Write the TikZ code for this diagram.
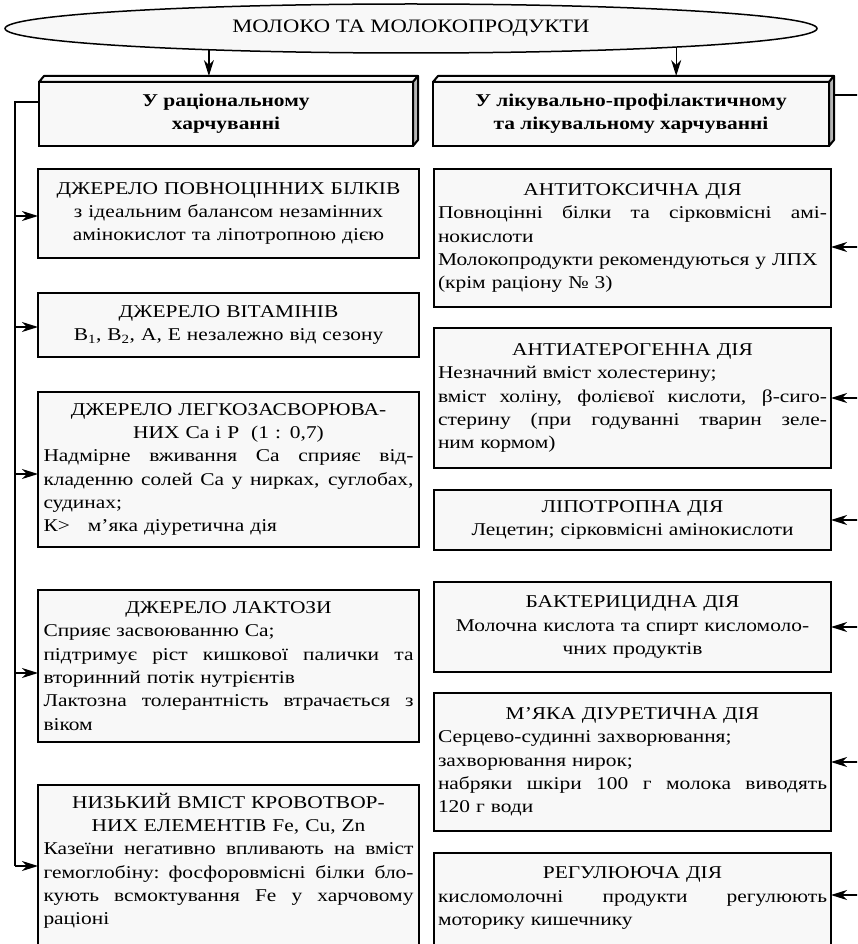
\documentclass[tikz,border=0pt]{standalone}
\usepackage{fontspec}
\setmainfont{Liberation Serif}[FakeStretch=1.19]
\usetikzlibrary{arrows.meta,shapes.geometric,calc}
\definecolor{boxfill}{HTML}{F8F8F8}
\definecolor{sidegray}{HTML}{B5B5B5}
\newcommand{\bodyfont}{\fontsize{18}{23.3}\selectfont}
\newcommand{\Jl}[1]{\leavevmode\hbox to \hsize{\spaceskip=0.25em plus 1em\relax #1}}
\newcommand{\Ll}[1]{\leavevmode\hbox to \hsize{#1\hfil}}
\tikzset{
  lbox/.style={draw, line width=2.2pt, fill=boxfill, text width=370pt, inner xsep=5.5pt,
    align=center, font=\bodyfont, outer sep=0pt},
  rbox/.style={draw, line width=2.2pt, fill=boxfill, text width=389pt, inner xsep=4pt,
    align=center, font=\bodyfont, outer sep=0pt},
  hbox/.style={draw, line width=2pt, fill=boxfill, align=center, font=\bodyfont\bfseries,
    minimum height=64pt, inner sep=0pt, outer sep=0pt},
  face/.style={draw, line width=2pt, line join=round, fill=boxfill},
  conn/.style={draw, line width=1.3pt},
  arr/.style={conn, -{Stealth[length=16pt,width=10pt,inset=5pt]}}
}
\begin{document}
\begin{tikzpicture}[x=1pt,y=-1pt]
\useasboundingbox (0,0) rectangle (857,944);
\clip (0,0) rectangle (857,944);

% top ellipse
\node[draw, ellipse, line width=1.5pt, fill=boxfill, minimum width=812pt, minimum height=49pt,
  inner sep=0pt, outer sep=0pt, font=\fontsize{19}{23}\selectfont] (ell) at (411,28.5) {МОЛОКО ТА МОЛОКОПРОДУКТИ};

% headers
\node[hbox, minimum width=374pt] (lh) at (226,114) {У раціональному\\харчуванні};
\node[hbox, minimum width=396pt] (rh) at (631,114) {У лікувально-профілактичному\\та лікувальному харчуванні};
\foreach \h in {lh,rh}{
  \draw[face] (\h.north west) -- ++(5,-6) -- ($(\h.north east)+(5,-6)$) -- (\h.north east) -- cycle;
  \draw[face, fill=sidegray] (\h.north east) -- ++(5,-6) -- ($(\h.south east)+(5,-6)$) -- (\h.south east) -- cycle;
}
\coordinate (lhback) at ($(lh.north)+(0,-6)$);
\coordinate (rhback) at ($(rh.north)+(0,-6)$);
\coordinate (rhside) at ($(rh.north east)+(5,-6)$);

% left boxes
\node[lbox, minimum height=89pt] (l1) at (228.5,213.5) {ДЖЕРЕЛО ПОВНОЦІННИХ БІЛКІВ\\
з ідеальним балансом незамінних\\
амінокислот та ліпотропною дією};
\node[lbox, minimum height=64pt] (l2) at (228.5,325) {ДЖЕРЕЛО ВІТАМІНІВ\\
В\textsubscript{1}, В\textsubscript{2}, А, Е незалежно від сезону};
\node[lbox, minimum height=155pt] (l3) at (228.5,469.5) {ДЖЕРЕЛО ЛЕГКОЗАСВОРЮВА-\\
НИХ Ca і P~~(1 : 0,7)\\
\Jl{Надмірне вживання Ca сприяє від-}\\
\Jl{кладенню солей Ca у нирках, суглобах,}\\
\Ll{судинах;}\\
\Ll{К>~~~м’яка діуретична дія}};
\node[lbox, minimum height=152pt] (l4) at (228.5,666) {ДЖЕРЕЛО ЛАКТОЗИ\\
\Ll{Сприяє засвоюванню Ca;}\\
\Jl{підтримує ріст кишкової палички та}\\
\Ll{вторинний потік нутрієнтів}\\
\Jl{Лактозна толерантність втрачається з}\\
\Ll{віком}};
\node[lbox, anchor=north, inner ysep=8pt] (l5) at (228.5,785) {НИЗЬКИЙ ВМІСТ КРОВОТВОР-\\
НИХ ЕЛЕМЕНТІВ Fe, Cu, Zn\\
\Jl{Казеїни негативно впливають на вміст}\\
\Jl{гемоглобіну: фосфоровмісні білки бло-}\\
\Jl{кують всмоктування Fe у харчовому}\\
\Ll{раціоні\rule[-60pt]{0pt}{60pt}}};

% right boxes
\node[rbox, minimum height=138pt] (r1) at (632.5,238) {АНТИТОКСИЧНА ДІЯ\\
\Jl{Повноцінні білки та сірковмісні амі-}\\
\Ll{нокислоти}\\
\Ll{Молокопродукти рекомендуються у ЛПХ}\\
\Ll{(крім раціону №~3)}};
\node[rbox, minimum height=140pt] (r2) at (632.5,398) {АНТИАТЕРОГЕННА ДІЯ\\
\Ll{Незначний вміст холестерину;}\\
\Jl{вміст холіну, фолієвої кислоти, β-сиго-}\\
\Jl{стерину (при годуванні тварин зеле-}\\
\Ll{ним кормом)}};
\node[rbox, minimum height=60pt] (r3) at (632.5,520) {ЛІПОТРОПНА ДІЯ\\
Лецетин; сірковмісні амінокислоти};
\node[rbox, minimum height=90pt] (r4) at (632.5,627) {БАКТЕРИЦИДНА ДІЯ\\
Молочна кислота та спирт кисломоло-\\
чних продуктів};
\node[rbox, minimum height=138pt] (r5) at (632.5,762) {М’ЯКА ДІУРЕТИЧНА ДІЯ\\
\Ll{Серцево-судинні захворювання;}\\
\Ll{захворювання нирок;}\\
\Jl{набряки шкіри 100 г молока виводять}\\
\Ll{120 г води}};
\node[rbox, anchor=north, inner ysep=14pt] (r6) at (632.5,853) {РЕГУЛЮЮЧА ДІЯ\\
\Jl{кисломолочні продукти регулюють}\\
\Ll{моторику кишечнику\rule[-60pt]{0pt}{60pt}}};

% arrows from ellipse
\draw[arr] (ell.186.3) -- (ell.186.3 |- lhback);
\draw[arr] (ell.356) -- (ell.356 |- rhback);

% left bus
\coordinate (lt) at (15,102);
\coordinate (la1) at (15,216);
\coordinate (la2) at (15,327);
\coordinate (la3) at (15,474);
\coordinate (la4) at (15,673);
\coordinate (la5) at (15,866);
\draw[conn] (lh.west |- lt) -- (lt) -- (la5);
\foreach \i in {1,...,5}{
  \draw[arr] (la\i) -- (la\i -| l\i.west);
}

% right bus
\coordinate (rt) at (861,95);
\coordinate (ra1) at (861,247);
\coordinate (ra2) at (861,398);
\coordinate (ra3) at (861,520);
\coordinate (ra4) at (861,627);
\coordinate (ra5) at (861,762);
\coordinate (ra6) at (861,895);
\draw[conn] (rhside |- rt) -- (rt) -- (ra6);
\foreach \i in {1,...,6}{
  \draw[arr] (ra\i) -- (ra\i -| r\i.east);
}
\end{tikzpicture}
\end{document}
